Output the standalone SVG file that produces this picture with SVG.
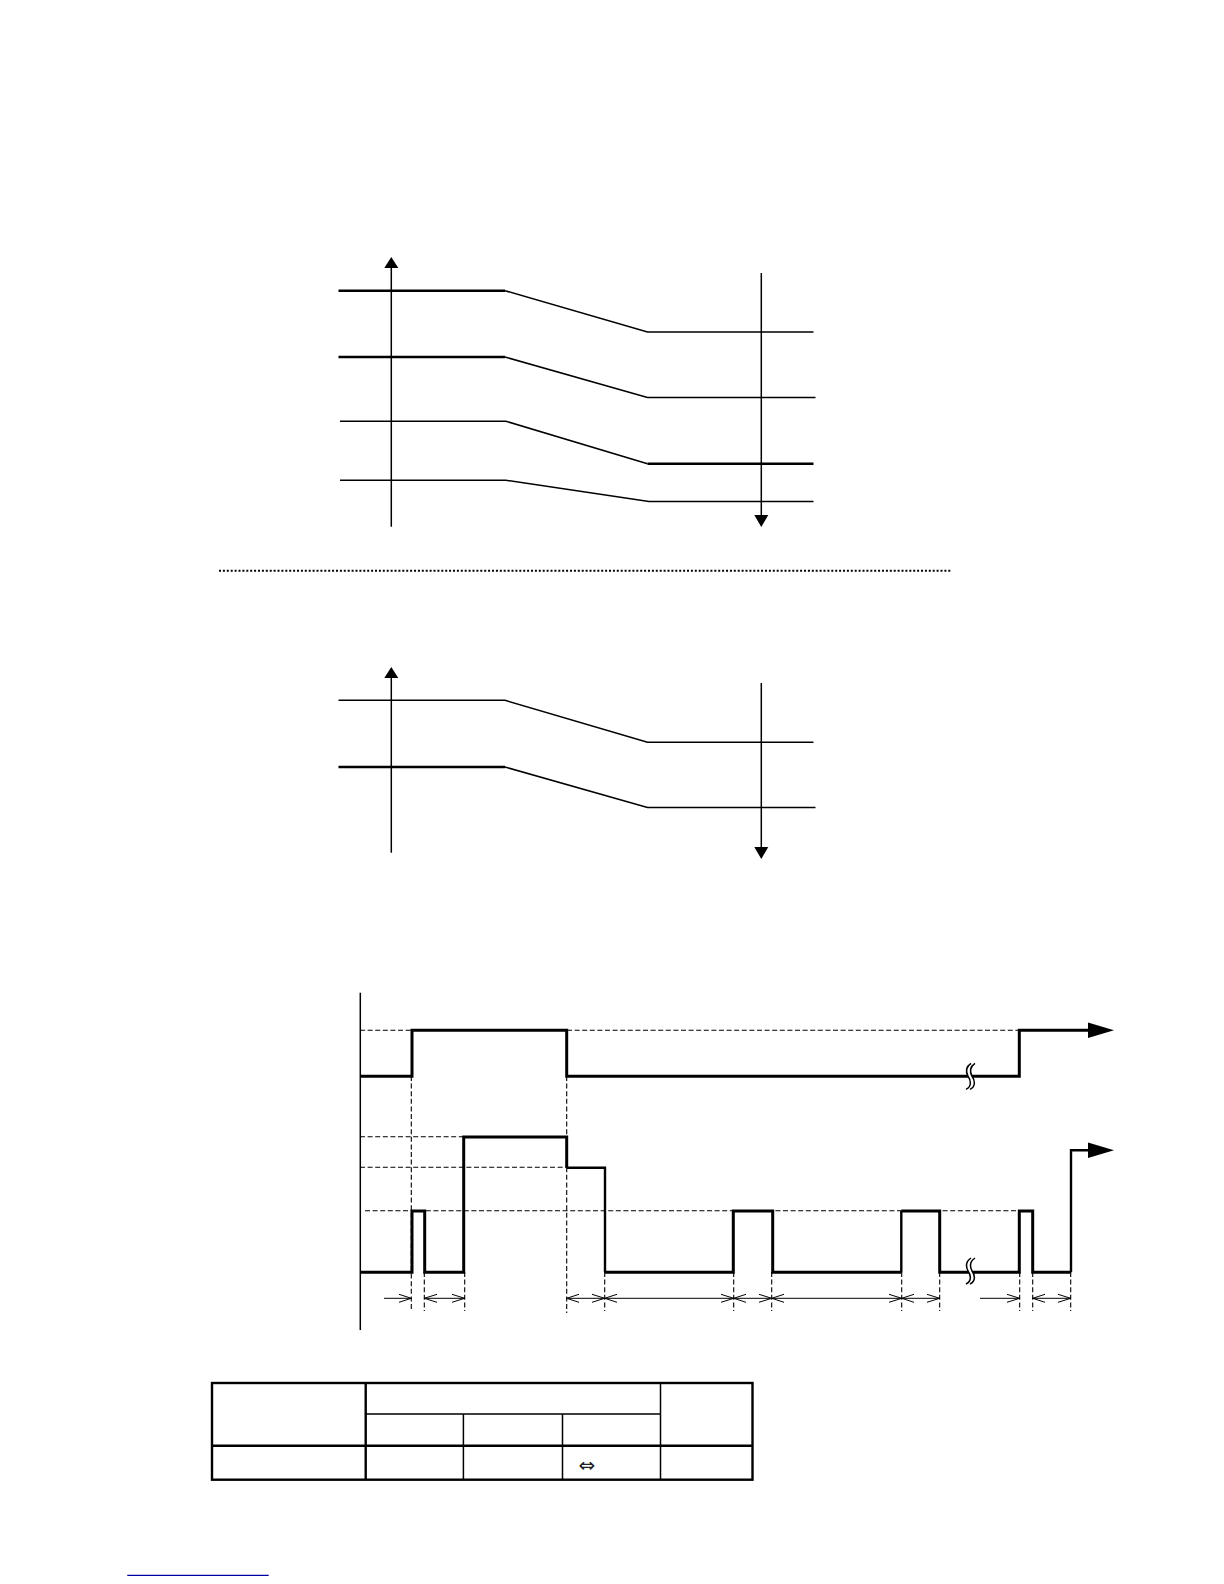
<svg xmlns="http://www.w3.org/2000/svg" width="1224" height="1584" viewBox="0 0 1224 1584">
<defs>
<style>
.t{fill:none;stroke:#000;stroke-width:1.5}
.m{fill:none;stroke:#000;stroke-width:2.4}
.k{fill:none;stroke:#000;stroke-width:3;stroke-linejoin:miter}
.d{fill:none;stroke:#000;stroke-width:1.1;stroke-dasharray:5 2.6}
.c{fill:none;stroke:#000;stroke-width:1}
.h{fill:#000}
</style>
<g id="brk"><path d="M-2,-13 C-8,-9 -7,-4 -4,0 C-1,4 0,10 -6,13 L-2,13 C4,10 3,4 0,0 C-3,-4 -4,-9 2,-13 Z" fill="#fff" stroke="none"/><path class="c" style="stroke-width:1.5" d="M-1,-13 C-7,-9 -6,-4 -4,0 C-1,4 0,10 -6,13 M3,-13 C-3,-9 -2,-4 0,0 C3,4 4,10 -2,13"/></g>
</defs>
<rect width="1224" height="1584" fill="#fff"/>

<g id="chart1">
<g id="chart1-axes">
<path class="t" d="M391.3,526.7V265"/><path class="h" d="M391.3,257l-7,11h14z"/>
<path class="t" d="M761.3,273V518"/><path class="h" d="M761.3,527l-7,-12h14z"/>
</g>
<g id="chart1-lines">
<path class="m" d="M338.5,290.7H505"/><path class="t" d="M505,290.7L647.5,332H813.5"/>
<path class="m" d="M338.5,357H505"/><path class="t" d="M505,357L647.5,397.5H815.5"/>
<path class="t" d="M340,421.3H506L647.5,463.7"/><path class="m" d="M647.5,463.7H813.5"/>
<path class="t" d="M340,480.3H506L649,501.5H813.5"/>
</g>
</g>

<path id="divider" d="M219,570.7H952" fill="none" stroke="#000" stroke-width="2" stroke-dasharray="2 1.9"/>

<g id="chart2">
<g id="chart2-axes">
<path class="t" d="M391.3,852.7V672"/><path class="h" d="M391.3,667l-7,11h14z"/>
<path class="t" d="M761.3,683V850"/><path class="h" d="M761.3,859l-7,-12h14z"/>
</g>
<g id="chart2-lines">
<path class="t" d="M338.5,700.3H505L647.5,742.2H813.5"/>
<path class="m" d="M338.5,767H505"/><path class="t" d="M505,767L647.5,807.5H815.5"/>
</g>
</g>

<g id="timing">
<path id="timing-axis" class="t" d="M360.3,992.7V1330"/>
<g id="timing-guides">
<path class="d" d="M360,1030.3H412M567,1030.3H1019M360,1136.7H463M360,1167.3H566M365,1210.7H1019"/>
<path class="d" d="M411.3,1076V1311M424.3,1272V1311M464.7,1272V1311M566.7,1076V1313M604.7,1272V1311M733.7,1272V1311M771.7,1272V1311M901.7,1272V1311M939.7,1272V1311M1019.7,1272V1311M1032.7,1272V1311M1070.7,1272V1311"/>
</g>
<g id="timing-signals">
<path class="k" d="M360,1076.3H412V1030.3H566.7V1076.3H1019.3V1030.3H1090"/>
<path class="h" d="M1114,1030.3l-26,-7.8v15.6z"/>
<path class="k" d="M360,1272.3H412V1211H424.7V1272.3H463.7V1137H566.7V1167.7"/>
<path class="m" d="M566.7,1167.7H605V1272.3"/>
<path class="k" d="M605,1272.3H733.3V1211H772.7V1272.3H901.3"/>
<path class="m" d="M901.3,1272.3V1211"/>
<path class="k" d="M901.3,1211H939.7V1272.3H1019.3V1211H1032.7V1272.3H1071"/>
<path class="m" d="M1071,1272.3V1150.3H1090"/>
<path class="h" d="M1114,1150.3l-26,-7.8v15.6z"/>
<use href="#brk" x="972" y="1076.3"/>
<use href="#brk" x="972" y="1271"/>
</g>
<g id="timing-dimensions">
<path class="c" d="M384,1298.3H411.3M424.3,1298.3H464.7M566.7,1298.3H733.7M733.7,1298.3H939.7M980,1298.3H1019.7M1032.7,1298.3H1070.7"/>
<path class="c" d="M399,1294.3L411.3,1298.3L399,1302.3M437,1294.3L424.3,1298.3L437,1302.3M452,1294.3L464.7,1298.3L452,1302.3"/>
<path class="c" d="M579,1294.3L566.7,1298.3L579,1302.3M592,1294.3L604.7,1298.3L592,1302.3M617,1294.3L604.7,1298.3L617,1302.3M721,1294.3L733.7,1298.3L721,1302.3M746,1294.3L733.7,1298.3L746,1302.3M759,1294.3L771.7,1298.3L759,1302.3M784,1294.3L771.7,1298.3L784,1302.3M889,1294.3L901.7,1298.3L889,1302.3M914,1294.3L901.7,1298.3L914,1302.3M927,1294.3L939.7,1298.3L927,1302.3"/>
<path class="c" d="M1007,1294.3L1019.7,1298.3L1007,1302.3M1045,1294.3L1032.7,1298.3L1045,1302.3M1058,1294.3L1070.7,1298.3L1058,1302.3"/>
</g>
</g>

<g id="table">
<rect x="212" y="1383" width="540.5" height="96.7" fill="none" stroke="#000" stroke-width="2.4"/>
<path class="m" d="M212,1445.7H752.5M365.7,1383V1479.7"/>
<path class="t" d="M660.5,1383V1479.7M365.7,1414H660.5M463.4,1414V1479.7M562.5,1414V1479.7"/>
<text x="587" y="1472" text-anchor="middle" font-family="'DejaVu Sans',sans-serif" font-size="20" fill="#222">⇔</text>
</g>

<path id="link-underline" d="M127.3,1575.3H268.7" fill="none" stroke="#0000a0" stroke-width="1.3"/>
</svg>
